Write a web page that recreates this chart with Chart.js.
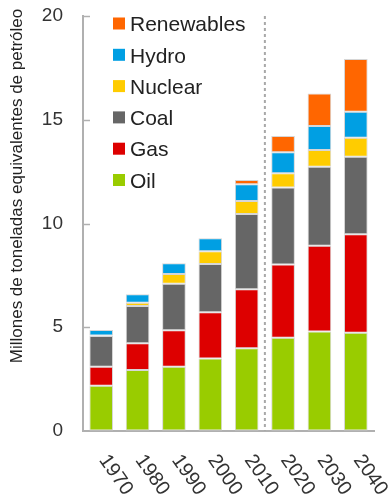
<!DOCTYPE html>
<html>
<head>
<meta charset="utf-8">
<script src="https://cdn.jsdelivr.net/npm/chart.js@4/dist/chart.umd.min.js"></script>
<style>
  html, body { margin: 0; padding: 0; background: #ffffff; }
  canvas { display: block; }
</style>
</head>
<body>
<canvas id="energy" width="390" height="502"></canvas>
<script>
// Global primary energy demand by fuel, 1970-2040 (Gtoe)
const decades    = ['1970', '1980', '1990', '2000', '2010', '2020', '2030', '2040'];
const oil        = [2.18, 2.94, 3.10, 3.50, 3.99, 4.50, 4.79, 4.74];
const gas        = [0.92, 1.29, 1.75, 2.22, 2.84, 3.53, 4.14, 4.74];
const coal       = [1.48, 1.79, 2.25, 2.33, 3.63, 3.70, 3.81, 3.74];
const nuclear    = [0.02, 0.16, 0.47, 0.61, 0.62, 0.69, 0.80, 0.91];
const hydro      = [0.27, 0.41, 0.51, 0.63, 0.81, 1.01, 1.16, 1.26];
const renewables = [0.00, 0.00, 0.00, 0.00, 0.21, 0.79, 1.57, 2.54];

const seriesNames  = ['Oil', 'Gas', 'Coal', 'Nuclear', 'Hydro', 'Renewables'];
const seriesValues = [oil, gas, coal, nuclear, hydro, renewables];
const seriesColors = ['#99cc00', '#dd0000', '#666666', '#ffcc00', '#009fe3', '#ff6600'];

const yTickValues = [0, 5, 10, 15, 20];
const axisTitle   = 'Millones de toneladas equivalentes de petróleo';
const forecastStartIndex = 5; // first projected decade

const FONT = "'Liberation Sans', Arial, Helvetica, sans-serif";
const AXIS_GREY = '#b0b0b0';

const decor = {
  id: 'decor',
  beforeDatasetsDraw(chart) {
    const { ctx, chartArea, scales: { x } } = chart;
    // dashed divider between history and projections
    const xd = (x.getPixelForValue(forecastStartIndex - 1) + x.getPixelForValue(forecastStartIndex)) / 2;
    ctx.save();
    ctx.strokeStyle = '#a8a8a8';
    ctx.lineWidth = 2;
    ctx.setLineDash([3, 3]);
    ctx.beginPath();
    ctx.moveTo(xd, chartArea.top);
    ctx.lineTo(xd, chartArea.bottom);
    ctx.stroke();
    ctx.restore();
  },
  afterDraw(chart) {
    const { ctx, chartArea, scales: { x, y } } = chart;
    ctx.save();

    // inward tick marks on the value axis
    ctx.strokeStyle = AXIS_GREY;
    ctx.lineWidth = 1.5;
    yTickValues.slice(1).forEach(v => {
      const py = Math.round(y.getPixelForValue(v)) + 0.5;
      ctx.beginPath();
      ctx.moveTo(chartArea.left, py);
      ctx.lineTo(chartArea.left + 7, py);
      ctx.stroke();
    });

    // rotated decade labels
    ctx.fillStyle = '#333333';
    ctx.font = '20px ' + FONT;
    ctx.textAlign = 'left';
    ctx.textBaseline = 'top';
    decades.forEach((lab, i) => {
      const cx = x.getPixelForValue(i);
      ctx.save();
      ctx.translate(cx + 10, 451);
      ctx.rotate(55 * Math.PI / 180);
      ctx.fillText(lab, 0, 0);
      ctx.restore();
    });

    // vertical axis title
    ctx.save();
    ctx.fillStyle = '#222222';
    ctx.font = '17px ' + FONT;
    ctx.textAlign = 'center';
    ctx.textBaseline = 'middle';
    ctx.translate(17, 186);
    ctx.rotate(-Math.PI / 2);
    ctx.fillText(axisTitle, 0, 0);
    ctx.restore();

    // legend, top of the stack first
    ctx.font = '21px ' + FONT;
    ctx.textBaseline = 'middle';
    ctx.textAlign = 'left';
    for (let k = 0; k < seriesNames.length; k++) {
      const idx = seriesNames.length - 1 - k;
      const ly = 23.5 + k * 31.3;
      ctx.fillStyle = seriesColors[idx];
      ctx.fillRect(113, ly - 6, 12, 12);
      ctx.fillStyle = '#222222';
      ctx.fillText(seriesNames[idx], 130, ly + 2);
    }
    ctx.restore();
  }
};

new Chart(document.getElementById('energy'), {
  type: 'bar',
  data: {
    labels: decades,
    datasets: seriesNames.map((name, i) => ({
      label: name,
      data: seriesValues[i],
      backgroundColor: seriesColors[i],
      borderColor: '#d6d6d6',
      borderWidth: 1,
      borderSkipped: false,
      barPercentage: 0.65,
      categoryPercentage: 1.0
    }))
  },
  options: {
    responsive: false,
    animation: false,
    layout: { padding: { left: 0, top: 16, right: 16, bottom: 71 } },
    plugins: {
      legend: { display: false },
      tooltip: { enabled: false }
    },
    scales: {
      x: {
        stacked: true,
        grid: { display: true, drawOnChartArea: false, drawTicks: false },
        border: { display: true, color: AXIS_GREY, width: 2 },
        ticks: { display: false }
      },
      y: {
        stacked: true,
        min: 0,
        max: 20,
        afterBuildTicks: s => { s.ticks = yTickValues.map(v => ({ value: v })); },
        afterFit: s => { s.width = 83; s.paddingTop = 0; s.paddingBottom = 0; },
        grid: { display: true, drawOnChartArea: false, drawTicks: false },
        border: { display: true, color: AXIS_GREY, width: 2 },
        ticks: {
          padding: 20,
          color: '#333333',
          font: { family: FONT, size: 19 }
        }
      }
    }
  },
  plugins: [decor]
});
</script>
</body>
</html>
